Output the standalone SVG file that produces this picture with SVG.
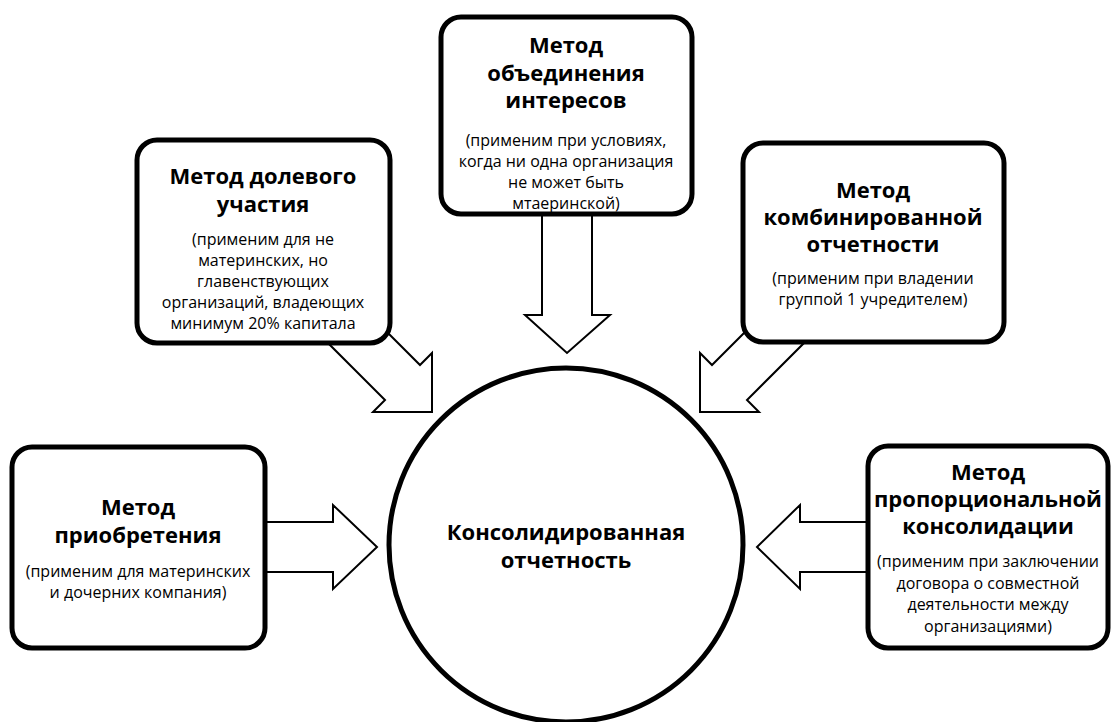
<svg xmlns="http://www.w3.org/2000/svg" width="1113" height="722" viewBox="0 0 1113 722">
<style>
.box{fill:#fff;stroke:#000;stroke-width:5}
.arrow{fill:#fff;stroke:#000;stroke-width:2;stroke-linejoin:miter}
.t{font-family:"Open Sans","Noto Sans","Liberation Sans",sans-serif;font-weight:700;font-size:22px;text-anchor:middle;fill:#000}
.s{font-family:"Open Sans","Noto Sans","Liberation Sans",sans-serif;font-weight:400;font-size:16px;text-anchor:middle;fill:#000}
</style>
<rect width="1113" height="722" fill="#fff"/>
<g id="connectors">
<polygon class="arrow" points="542,200 542,315 525,315 567,353 610,315 592,315 592,200"/>
<polygon class="arrow" points="370,315 420,365 432,353 432,412 373,412 385,400 320,335"/>
<polygon class="arrow" points="762,315 712,365 700,353 700,412 759,412 747,400 812,335"/>
<polygon class="arrow" points="250,522 333,522 333,505 377,547 333,589 333,572 250,572"/>
<polygon class="arrow" points="880,522 800,522 800,505 757,547 800,589 800,572 880,572"/>
</g>
<g id="center">
<circle cx="566" cy="545" r="177" fill="#fff" stroke="#000" stroke-width="5"/>
<text class="t" x="566" y="540">Консолидированная</text>
<text class="t" x="566" y="568">отчетность</text>
</g>
<g id="pooling">
<rect class="box" x="441" y="17" width="251" height="197" rx="20"/>
<text class="t" x="566" y="53">Метод</text>
<text class="t" x="566" y="81">объединения</text>
<text class="t" x="566" y="108">интересов</text>
<text class="s" x="566" y="146">(применим при условиях,</text>
<text class="s" x="566" y="167">когда ни одна организация</text>
<text class="s" x="566" y="188">не может быть</text>
<text class="s" x="566" y="209">мтаеринской)</text>
</g>
<g id="equity">
<rect class="box" x="137" y="140" width="253" height="203" rx="20"/>
<text class="t" x="263" y="184">Метод долевого</text>
<text class="t" x="263" y="212">участия</text>
<text class="s" x="263" y="245">(применим для не</text>
<text class="s" x="263" y="266">материнских, но</text>
<text class="s" x="263" y="287">главенствующих</text>
<text class="s" x="263" y="308">организаций, владеющих</text>
<text class="s" x="263" y="329">минимум 20% капитала</text>
</g>
<g id="combined">
<rect class="box" x="743" y="143" width="261" height="199" rx="20"/>
<text class="t" x="873" y="198">Метод</text>
<text class="t" x="873" y="225">комбинированной</text>
<text class="t" x="873" y="252">отчетности</text>
<text class="s" x="873" y="284">(применим при владении</text>
<text class="s" x="873" y="305">группой 1 учредителем)</text>
</g>
<g id="acquisition">
<rect class="box" x="12" y="447" width="253" height="201" rx="20"/>
<text class="t" x="138" y="515">Метод</text>
<text class="t" x="138" y="543">приобретения</text>
<text class="s" x="138" y="577">(применим для материнских</text>
<text class="s" x="138" y="598">и дочерних компания)</text>
</g>
<g id="proportional">
<rect class="box" x="868" y="446" width="240" height="202" rx="20"/>
<text class="t" x="988" y="480">Метод</text>
<text class="t" x="988" y="507">пропорциональной</text>
<text class="t" x="988" y="534">консолидации</text>
<text class="s" x="988" y="567">(применим при заключении</text>
<text class="s" x="988" y="589">договора о совместной</text>
<text class="s" x="988" y="610">деятельности между</text>
<text class="s" x="988" y="632">организациями)</text>
</g>
</svg>
